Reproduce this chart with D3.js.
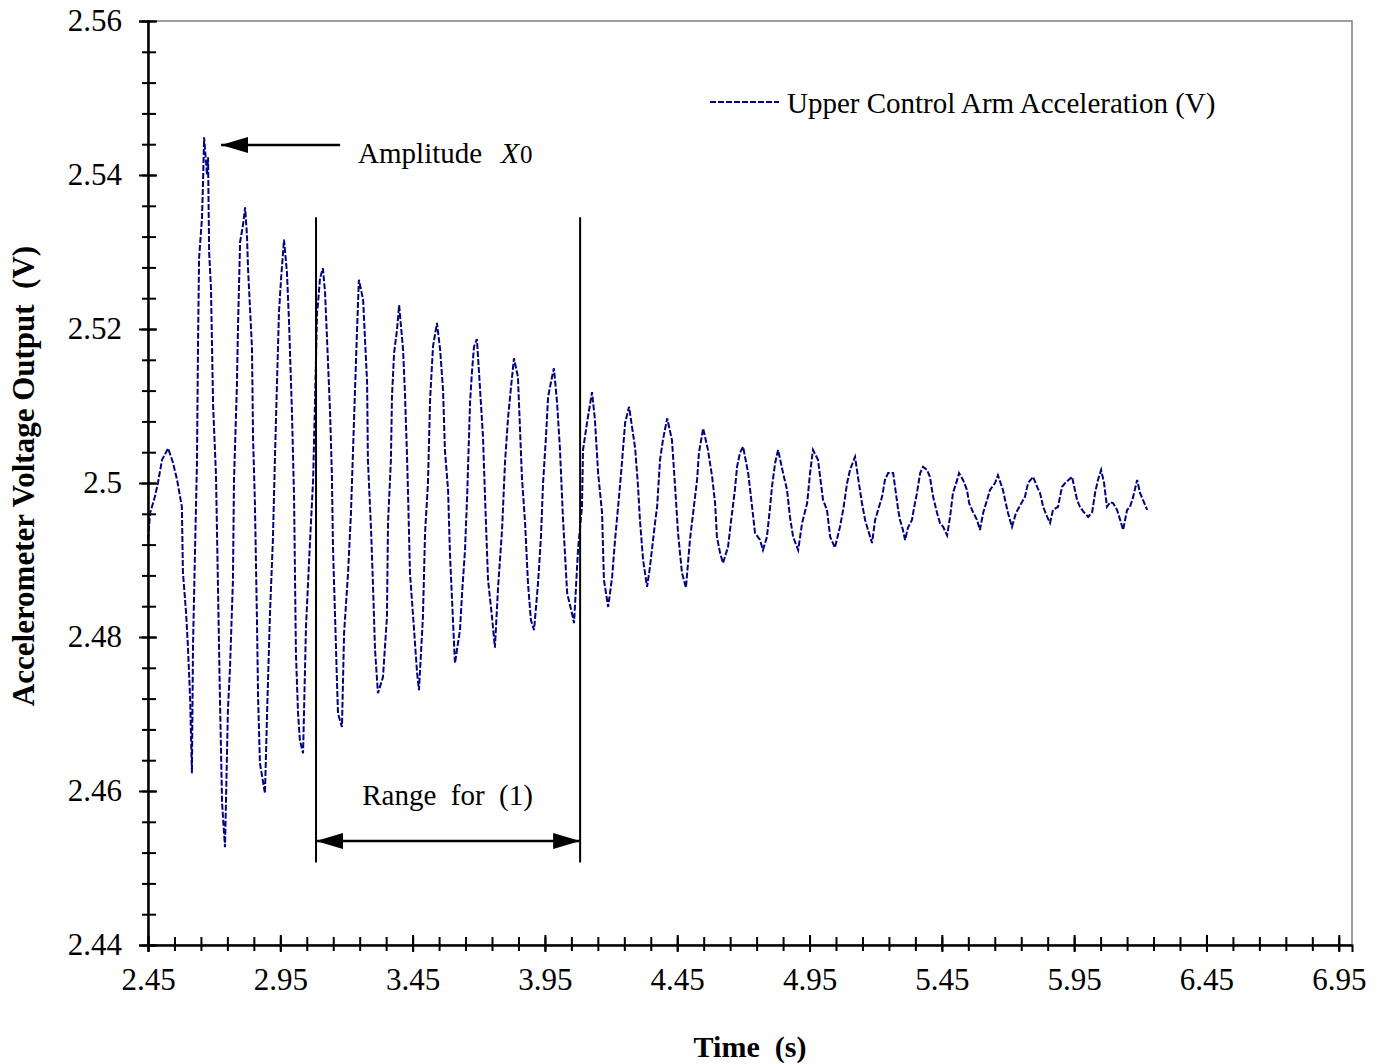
<!DOCTYPE html>
<html>
<head>
<meta charset="utf-8">
<script src="https://cdn.jsdelivr.net/npm/d3@7"></script>
<style>
  body { margin: 0; background: #fff; }
  svg { display: block; font-family: "Liberation Serif", "Times New Roman", serif; }
  .axis path, .axis line { stroke: #000; stroke-width: 2; }
  .axis text { font-family: "Liberation Serif", "Times New Roman", serif; font-size: 31px; fill: #000; }
  .axis-title { font-size: 30px; font-weight: bold; }
</style>
</head>
<body>
<svg id="chart"></svg>
<script>
const time = [
  2.450,2.458,2.476,2.488,2.503,2.526,2.544,2.560,2.578,2.582,
  2.594,2.601,2.609,2.616,2.620,2.628,2.635,2.639,2.643,2.654,
  2.658,2.662,2.673,2.677,2.681,2.688,2.696,2.707,2.722,2.730,
  2.741,2.752,2.760,2.771,2.775,2.786,2.790,2.798,2.809,2.817,
  2.824,2.828,2.843,2.847,2.854,2.862,2.866,2.873,2.892,2.900,
  2.911,2.922,2.930,2.938,2.945,2.953,2.964,2.975,2.983,2.994,
  3.002,3.009,3.017,3.024,3.036,3.047,3.062,3.074,3.089,3.092,
  3.100,3.111,3.119,3.126,3.138,3.145,3.149,3.157,3.164,3.168,
  3.183,3.191,3.206,3.217,3.232,3.240,3.247,3.263,3.278,3.281,
  3.293,3.300,3.308,3.319,3.338,3.353,3.357,3.368,3.372,3.380,
  3.391,3.399,3.414,3.421,3.429,3.433,3.440,3.452,3.467,3.474,
  3.489,3.497,3.508,3.516,3.527,3.542,3.554,3.565,3.572,3.584,
  3.591,3.599,3.610,3.629,3.637,3.648,3.656,3.667,3.674,3.682,
  3.693,3.705,3.716,3.724,3.735,3.750,3.761,3.773,3.788,3.799,
  3.811,3.822,3.833,3.848,3.863,3.875,3.886,3.897,3.909,3.924,
  3.935,3.943,3.954,3.962,3.977,3.984,3.996,4.007,4.018,4.034,
  4.052,4.060,4.075,4.090,4.094,4.109,4.128,4.139,4.151,4.166,
  4.173,4.189,4.204,4.215,4.230,4.241,4.253,4.268,4.291,4.302,
  4.309,4.321,4.336,4.347,4.366,4.374,4.385,4.396,4.412,4.430,
  4.442,4.453,4.468,4.483,4.498,4.510,4.525,4.532,4.548,4.566,
  4.582,4.593,4.600,4.612,4.623,4.642,4.657,4.668,4.676,4.687,
  4.699,4.718,4.733,4.744,4.763,4.774,4.789,4.801,4.808,4.820,
  4.831,4.850,4.865,4.876,4.888,4.907,4.922,4.941,4.952,4.963,
  4.982,5.001,5.016,5.028,5.046,5.065,5.077,5.092,5.103,5.122,
  5.133,5.148,5.160,5.179,5.186,5.198,5.209,5.224,5.235,5.247,
  5.266,5.285,5.292,5.303,5.311,5.322,5.337,5.345,5.356,5.368,
  5.379,5.394,5.405,5.417,5.432,5.443,5.455,5.470,5.481,5.492,
  5.508,5.515,5.530,5.545,5.553,5.568,5.583,5.594,5.606,5.621,
  5.632,5.651,5.662,5.681,5.689,5.700,5.715,5.730,5.746,5.764,
  5.776,5.795,5.810,5.821,5.833,5.848,5.859,5.870,5.889,5.904,
  5.916,5.942,5.961,5.972,5.987,6.003,6.018,6.029,6.040,6.052,
  6.063,6.074,6.086,6.097,6.112,6.124,6.135,6.150,6.161,6.173,
  6.188,6.199,6.210,6.226
];

const volts = [
  2.4926,2.4961,2.4982,2.5001,2.5030,2.5045,2.5027,2.5004,2.4969,2.4884,
  2.4831,2.4787,2.4722,2.4623,2.4787,2.4917,2.5026,2.5179,2.5292,2.5344,
  2.5391,2.5449,2.5400,2.5423,2.5300,2.5253,2.5101,2.5010,2.4718,2.4584,
  2.4527,2.4705,2.4761,2.4874,2.5004,2.5127,2.5201,2.5313,2.5335,2.5358,
  2.5322,2.5279,2.5175,2.5058,2.4975,2.4818,2.4722,2.4636,2.4597,2.4701,
  2.4831,2.4926,2.5036,2.5136,2.5222,2.5266,2.5316,2.5274,2.5209,2.5092,
  2.4981,2.4779,2.4701,2.4666,2.4649,2.4813,2.4922,2.5004,2.5222,2.5231,
  2.5266,2.5279,2.5248,2.5192,2.5092,2.5010,2.4917,2.4826,2.4744,2.4701,
  2.4683,2.4805,2.4883,2.4961,2.5117,2.5199,2.5264,2.5238,2.5130,2.5030,
  2.4939,2.4870,2.4783,2.4727,2.4748,2.4826,2.4948,2.5030,2.5112,2.5169,
  2.5199,2.5231,2.5173,2.5117,2.5034,2.4982,2.4883,2.4826,2.4753,2.4731,
  2.4826,2.4935,2.5000,2.5108,2.5177,2.5208,2.5173,2.5121,2.5043,2.4991,
  2.4909,2.4848,2.4766,2.4809,2.4857,2.4913,2.4982,2.5104,2.5143,2.5177,
  2.5187,2.5121,2.5060,2.4978,2.4874,2.4826,2.4786,2.4865,2.4939,2.5026,
  2.5086,2.5125,2.5162,2.5138,2.5008,2.4948,2.4870,2.4822,2.4809,2.4870,
  2.4930,2.5000,2.5060,2.5112,2.5138,2.5149,2.5104,2.5043,2.4956,2.4857,
  2.4831,2.4818,2.4913,2.4969,2.5043,2.5078,2.5118,2.5082,2.5013,2.4961,
  2.4874,2.4839,2.4878,2.4926,2.4982,2.5026,2.5078,2.5099,2.5045,2.4995,
  2.4952,2.4900,2.4865,2.4891,2.4948,2.4969,2.5030,2.5056,2.5084,2.5056,
  2.4995,2.4935,2.4883,2.4864,2.4926,2.4961,2.5004,2.5039,2.5071,2.5043,
  2.5008,2.4974,2.4930,2.4909,2.4896,2.4917,2.4961,2.4991,2.5021,2.5039,
  2.5047,2.5013,2.4969,2.4935,2.4926,2.4913,2.4930,2.4969,2.4995,2.5026,
  2.5043,2.5013,2.4991,2.4956,2.4930,2.4913,2.4948,2.4974,2.5013,2.5043,
  2.5030,2.4978,2.4965,2.4930,2.4916,2.4943,2.4965,2.5000,2.5017,2.5034,
  2.5008,2.4974,2.4952,2.4930,2.4922,2.4952,2.4965,2.4982,2.5004,2.5013,
  2.5013,2.4965,2.4952,2.4939,2.4926,2.4942,2.4952,2.4968,2.4987,2.5013,
  2.5021,2.5017,2.5008,2.4982,2.4961,2.4948,2.4943,2.4932,2.4956,2.4987,
  2.5004,2.5013,2.5004,2.4991,2.4974,2.4962,2.4952,2.4939,2.4961,2.4978,
  2.4991,2.5000,2.5010,2.4991,2.4978,2.4961,2.4943,2.4961,2.4971,2.4982,
  2.5000,2.5008,2.4995,2.4987,2.4969,2.4956,2.4948,2.4965,2.4969,2.4995,
  2.5000,2.5008,2.4978,2.4969,2.4962,2.4956,2.4962,2.4987,2.5004,2.5017,
  2.5000,2.4969,2.4975,2.4974,2.4965,2.4952,2.4939,2.4965,2.4969,2.4982,
  2.5004,2.4987,2.4978,2.4965
];

// Axis ticks and labels.
const xTicks = [2.45, 2.95, 3.45, 3.95, 4.45, 4.95, 5.45, 5.95, 6.45, 6.95];
const xTickLabels = ["2.45", "2.95", "3.45", "3.95", "4.45", "4.95", "5.45", "5.95", "6.45", "6.95"];
const yTicks = [2.44, 2.46, 2.48, 2.50, 2.52, 2.54, 2.56];
const yTickLabels = ["2.44", "2.46", "2.48", "2.5", "2.52", "2.54", "2.56"];

// Annotations in data units.
const rangeLines = [3.085, 4.083];       // vertical markers (s)
const rangeLineSpan = [2.4507, 2.5345];  // bottom/top of markers (V)
const rangeArrowV = 2.4535;
const rangeLabel = { t: 3.582, v: 2.4582, text: "Range\u00a0 for\u00a0 (1)" };
const ampArrow = { from: 3.176, to: 2.726, v: 2.5439 };
const ampLabel = { t: 3.244, v: 2.5416 };

const seriesName = "Upper Control Arm Acceleration (V)";

// Set svg size and plot margins.
const width = 1382;
const height = 1064;
const margin = { top: 21, bottom: 119, left: 148, right: 30 };
const plotWidth = width - margin.left - margin.right;
const plotHeight = height - margin.top - margin.bottom;

const svg = d3.select("#chart").attr("width", width).attr("height", height);

function translate(x, y) {
  return "translate(" + String(x) + "," + String(y) + ")";
}

const plot = svg.append("g").attr("id", "plot")
  .attr("transform", translate(margin.left, margin.top));

const xScale = d3.scaleLinear().domain([2.45, 7.0]).range([0, plotWidth]);
const yScale = d3.scaleLinear().domain([2.44, 2.56]).range([plotHeight, 0]);

drawFrame();
drawSignal();
drawAnnotations();
drawAxis();
drawTitles();
drawLegend();

/*
 * gray plot-area border (left and bottom get covered by the axes)
 */
function drawFrame() {
  plot.append("rect")
    .attr("x", 0).attr("y", 0)
    .attr("width", plotWidth).attr("height", plotHeight)
    .attr("fill", "none")
    .attr("stroke", "#808080")
    .attr("stroke-width", 1.5);
}

function drawSignal() {
  console.assert(time.length == volts.length, time.length, volts.length);
  const rows = time.map((t, i) => ({ t: t, v: volts[i] }));

  const line = d3.line()
    .x(d => xScale(d.t))
    .y(d => yScale(d.v));

  plot.append("path")
    .datum(rows)
    .attr("d", line)
    .attr("fill", "none")
    .attr("stroke", "#000080")
    .attr("stroke-width", 2)
    .attr("stroke-dasharray", "6,2");
}

function drawAnnotations() {
  let defs = svg.append("defs");
  defs.append("marker")
    .attr("id", "head")
    .attr("viewBox", "0 0 27 16")
    .attr("refX", 27).attr("refY", 8)
    .attr("markerWidth", 27).attr("markerHeight", 16)
    .attr("markerUnits", "userSpaceOnUse")
    .attr("orient", "auto-start-reverse")
    .append("path")
    .attr("d", "M0,0 L27,8 L0,16 Z")
    .attr("fill", "#000");

  let g = plot.append("g").attr("id", "annotations");

  g.selectAll("line.range")
    .data(rangeLines)
    .enter()
    .append("line")
    .attr("class", "range")
    .attr("x1", d => xScale(d)).attr("x2", d => xScale(d))
    .attr("y1", yScale(rangeLineSpan[0])).attr("y2", yScale(rangeLineSpan[1]))
    .attr("stroke", "#000").attr("stroke-width", 2);

  g.append("line")
    .attr("x1", xScale(rangeLines[0])).attr("x2", xScale(rangeLines[1]))
    .attr("y1", yScale(rangeArrowV)).attr("y2", yScale(rangeArrowV))
    .attr("stroke", "#000").attr("stroke-width", 2.5)
    .attr("marker-start", "url(#head)")
    .attr("marker-end", "url(#head)");

  g.append("text")
    .attr("x", xScale(rangeLabel.t))
    .attr("y", yScale(rangeLabel.v))
    .attr("text-anchor", "middle")
    .style("font-size", "29px")
    .text(rangeLabel.text);

  g.append("line")
    .attr("x1", xScale(ampArrow.from)).attr("x2", xScale(ampArrow.to))
    .attr("y1", yScale(ampArrow.v)).attr("y2", yScale(ampArrow.v))
    .attr("stroke", "#000").attr("stroke-width", 2.5)
    .attr("marker-end", "url(#head)");

  let amp = g.append("text")
    .attr("x", xScale(ampLabel.t))
    .attr("y", yScale(ampLabel.v))
    .style("font-size", "29px");
  amp.append("tspan").text("Amplitude\u00a0 ");
  amp.append("tspan").attr("dx", 4).style("font-style", "italic").style("font-size", "30px").text("X");
  amp.append("tspan").attr("dx", 1).style("font-size", "25px").text("0");
}

/*
 * axes with ticks crossing the axis line, Excel style
 */
function drawAxis() {
  let xMinor = d3.range(0, 46).map(i => 2.45 + i * 0.1);
  let yMinor = d3.range(0, 31).map(i => 2.44 + i * 0.004);

  let xMinorAxis = d3.axisBottom(xScale).tickValues(xMinor).tickFormat("").tickSizeOuter(0);
  let xg0 = plot.append("g").attr("class", "axis")
    .attr("transform", translate(0, plotHeight))
    .call(xMinorAxis);
  xg0.selectAll(".tick line").attr("y1", -8).attr("y2", 6);

  let xAxis = d3.axisBottom(xScale)
    .tickValues(xTicks)
    .tickFormat((d, i) => xTickLabels[i])
    .tickSizeOuter(0)
    .tickSize(7)
    .tickPadding(16);
  let xg = plot.append("g").attr("class", "axis")
    .attr("transform", translate(0, plotHeight))
    .call(xAxis);
  xg.selectAll(".tick line").attr("y1", -10).attr("y2", 7);

  let yMinorAxis = d3.axisLeft(yScale).tickValues(yMinor).tickFormat("").tickSizeOuter(0);
  let yg0 = plot.append("g").attr("class", "axis").call(yMinorAxis);
  yg0.selectAll(".tick line").attr("x1", 8).attr("x2", -6);

  let yAxis = d3.axisLeft(yScale)
    .tickValues(yTicks)
    .tickFormat((d, i) => yTickLabels[i])
    .tickSizeOuter(0)
    .tickSize(9)
    .tickPadding(17);
  let yg = plot.append("g").attr("class", "axis").call(yAxis);
  yg.selectAll(".tick line").attr("x1", 9).attr("x2", -9);
}

function drawTitles() {
  svg.append("text")
    .attr("class", "axis-title")
    .attr("x", margin.left + plotWidth / 2)
    .attr("y", 1057)
    .attr("text-anchor", "middle")
    .text("Time\u00a0 (s)");

  let yGroup = svg.append("g")
    .attr("transform", translate(34, 476));
  yGroup.append("text")
    .attr("class", "axis-title")
    .attr("x", 0).attr("y", 0)
    .attr("text-anchor", "middle")
    .attr("transform", "rotate(-90)")
    .style("font-size", "31px")
    .text("Accelerometer Voltage Output\u00a0 (V)");
}

function drawLegend() {
  let legend = svg.append("g").attr("id", "legend")
    .attr("transform", translate(710, 102));

  legend.append("line")
    .attr("x1", 0).attr("x2", 69)
    .attr("y1", 0).attr("y2", 0)
    .attr("stroke", "#000080")
    .attr("stroke-width", 2)
    .attr("stroke-dasharray", "6,2");

  legend.append("text")
    .attr("x", 77).attr("y", 11)
    .style("font-size", "29px")
    .text(seriesName);
}
</script>
</body>
</html>
